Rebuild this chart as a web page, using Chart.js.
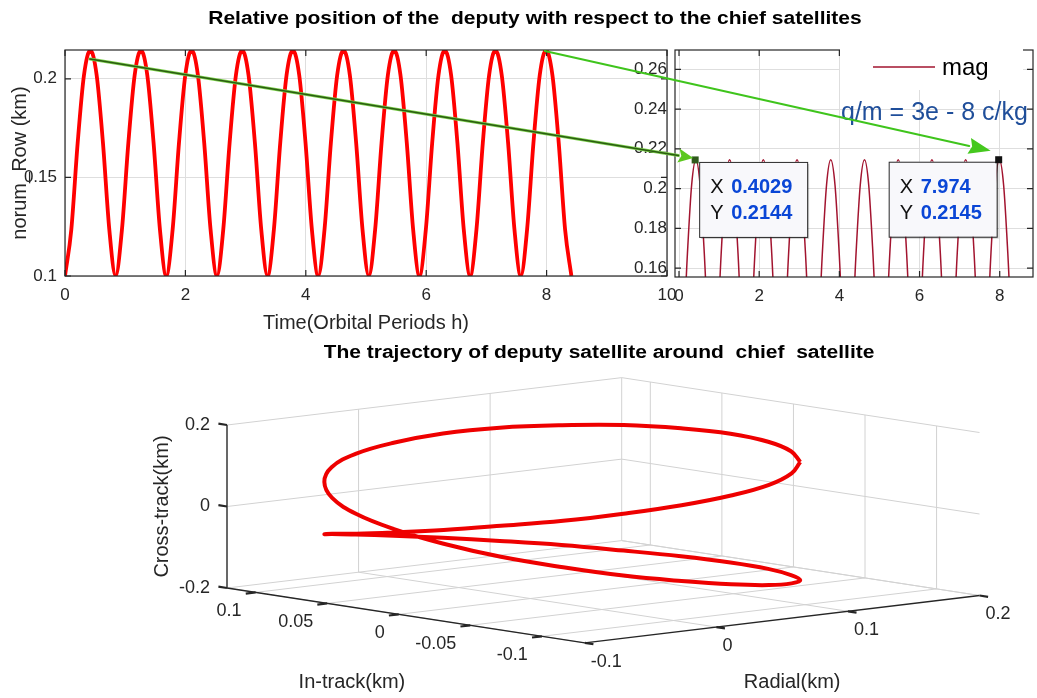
<!DOCTYPE html>
<html>
<head>
<meta charset="utf-8">
<script src="https://cdn.jsdelivr.net/npm/chart.js@4.4.1/dist/chart.umd.min.js"></script>
<style>
  html, body { margin: 0; padding: 0; background: #fff; }
  #fig { position: relative; width: 1037px; height: 698px; overflow: hidden; font-family: "Liberation Sans", Arial, sans-serif; }
  #fig canvas { position: absolute; }
  .fig-title { position: absolute; font-weight: bold; font-size: 17.5px; color: #000; white-space: pre;
               transform: translateX(-50%) scaleX(1.2); line-height: 20px; }
</style>
</head>
<body>
<div id="fig">
  <canvas id="normChart" style="left:0;top:0" width="700" height="336"></canvas>
  <canvas id="zoomChart" style="left:600px;top:0" width="437" height="336"></canvas>
  <canvas id="arrows" style="left:0;top:0" width="1037" height="336"></canvas>
  <canvas id="orbitChart" style="left:0;top:340px" width="1037" height="358"></canvas>
  <div class="fig-title" style="left:535px;top:8px">Relative position of the  deputy with respect to the chief satellites</div>
  <div class="fig-title" style="left:599px;top:342px">The trajectory of deputy satellite around  chief  satellite</div>
</div>
<script>
/* ---------- data: norm of relative position vs time ---------- */
const timeH = [
  0.000, 0.105, 0.210, 0.315, 0.421, 0.526, 0.631, 0.736,
  0.841, 0.946, 1.052, 1.157, 1.262, 1.367, 1.472, 1.577,
  1.682, 1.788, 1.893, 1.998, 2.103, 2.208, 2.313, 2.418,
  2.524, 2.629, 2.734, 2.839, 2.944, 3.049, 3.155, 3.260,
  3.365, 3.470, 3.575, 3.680, 3.785, 3.891, 3.996, 4.101,
  4.206, 4.311, 4.416, 4.521, 4.627, 4.732, 4.837, 4.942,
  5.047, 5.152, 5.258, 5.363, 5.468, 5.573, 5.678, 5.783,
  5.888, 5.994, 6.099, 6.204, 6.309, 6.414, 6.519, 6.624,
  6.730, 6.835, 6.940, 7.045, 7.150, 7.255, 7.361, 7.466,
  7.571, 7.676, 7.781, 7.886, 7.991, 8.097, 8.202, 8.307,
  8.412
];
const normRow = [
  0.1000, 0.1236, 0.1673, 0.2018, 0.2145, 0.2018, 0.1673, 0.1236,
  0.1000, 0.1236, 0.1673, 0.2018, 0.2145, 0.2018, 0.1673, 0.1236,
  0.1000, 0.1236, 0.1673, 0.2018, 0.2145, 0.2018, 0.1673, 0.1236,
  0.1000, 0.1236, 0.1673, 0.2018, 0.2145, 0.2018, 0.1673, 0.1236,
  0.1000, 0.1236, 0.1673, 0.2018, 0.2145, 0.2018, 0.1673, 0.1236,
  0.1000, 0.1236, 0.1673, 0.2018, 0.2145, 0.2018, 0.1673, 0.1236,
  0.1000, 0.1236, 0.1673, 0.2018, 0.2145, 0.2018, 0.1673, 0.1236,
  0.1000, 0.1236, 0.1673, 0.2018, 0.2145, 0.2018, 0.1673, 0.1236,
  0.1000, 0.1236, 0.1673, 0.2018, 0.2145, 0.2018, 0.1673, 0.1236,
  0.1000, 0.1236, 0.1673, 0.2018, 0.2145, 0.2018, 0.1673, 0.1236,
  0.1000
];
const timeTicks = [0, 2, 4, 6, 8, 10];
const normTicks = [0.1, 0.15, 0.2];
const zoomTimeTicks = [0, 2, 4, 6, 8];
const zoomNormTicks = [0.16, 0.18, 0.2, 0.22, 0.24, 0.26];

// data tips shown on the zoomed plot
const tipX = [0.4029, 7.974];
const tipY = [0.2144, 0.2145];
// arrow start points on the left plot (time, norm)
const arrowFromX = [0.415, 7.97];
const arrowFromY = [0.2100, 0.2141];

/* ---------- data: 3D trajectory (radial, in-track, cross-track) ---------- */
const trajRadial = [
  0.104, 0.080, 0.052, 0.022, -0.008, -0.037, -0.061, -0.080, -0.092, -0.096, -0.093, -0.081,
  -0.063, -0.039, -0.011, 0.019, 0.050, 0.078, 0.102, 0.121, 0.133, 0.138, 0.134, 0.122,
  0.104, 0.080, 0.052, 0.022, -0.008, -0.037, -0.061, -0.080, -0.092, -0.096, -0.093, -0.081,
  -0.063, -0.039, -0.011, 0.019, 0.050, 0.078, 0.102, 0.121, 0.133, 0.138, 0.134, 0.122,
  0.104
];
const trajInTrack = [
  -0.093, -0.109, -0.119, -0.120, -0.113, -0.099, -0.079, -0.053, -0.024, 0.007, 0.036, 0.064,
  0.086, 0.103, 0.112, 0.113, 0.107, 0.093, 0.072, 0.046, 0.017, -0.013, -0.043, -0.070,
  -0.093, -0.109, -0.119, -0.120, -0.113, -0.099, -0.079, -0.053, -0.024, 0.007, 0.036, 0.064,
  0.086, 0.103, 0.112, 0.113, 0.107, 0.093, 0.072, 0.046, 0.017, -0.013, -0.043, -0.070,
  -0.093
];
const trajCross = [
  0.145, 0.135, 0.123, 0.109, 0.093, 0.076, 0.057, 0.038, 0.017, -0.004, -0.024, -0.044,
  -0.064, -0.082, -0.099, -0.114, -0.128, -0.139, -0.147, -0.154, -0.157, -0.158, -0.156, -0.152,
  -0.145, -0.135, -0.123, -0.109, -0.093, -0.076, -0.057, -0.038, -0.017, 0.004, 0.024, 0.044,
  0.064, 0.082, 0.099, 0.114, 0.128, 0.139, 0.147, 0.154, 0.157, 0.158, 0.156, 0.152,
  0.145
];
const radialTicks = [-0.1, 0, 0.1, 0.2];
const inTrackTicks = [0.1, 0.05, 0, -0.05, -0.1];
const crossTicks = [-0.2, 0, 0.2];
const radialLim = [-0.1, 0.2];
const inTrackLim = [-0.13, 0.12];
const crossLim = [-0.2, 0.2];

/* ---------- shared look ---------- */
const FONT = '"Liberation Sans", Arial, Helvetica, sans-serif';
Chart.defaults.font.family = FONT;
Chart.defaults.color = '#262626';
const AXIS_COLOR = '#262626';
const GRID_COLOR = '#dedede';

// MATLAB style box with inward tick marks
const matlabBox = {
  id: 'matlabBox',
  afterDraw(chart) {
    const { ctx, chartArea: a, scales } = chart;
    ctx.save();
    ctx.strokeStyle = AXIS_COLOR;
    ctx.lineWidth = 1.2;
    ctx.strokeRect(a.left, a.top, a.width, a.height);
    ctx.beginPath();
    scales.x.ticks.forEach(t => {
      const p = scales.x.getPixelForValue(t.value);
      ctx.moveTo(p, a.bottom); ctx.lineTo(p, a.bottom - 6);
      ctx.moveTo(p, a.top); ctx.lineTo(p, a.top + 6);
    });
    scales.y.ticks.forEach(t => {
      const p = scales.y.getPixelForValue(t.value);
      ctx.moveTo(a.left, p); ctx.lineTo(a.left + 6, p);
      ctx.moveTo(a.right, p); ctx.lineTo(a.right - 6, p);
    });
    ctx.stroke();
    ctx.restore();
  }
};

/* ========== LEFT: norm vs time ========== */
const normChart = new Chart(document.getElementById('normChart'), {
  type: 'line',
  data: {
    datasets: [{
      label: 'norum_Row',
      data: timeH.map((t, i) => ({ x: t, y: normRow[i] })),
      borderColor: '#ff0000',
      borderWidth: 3.8,
      pointRadius: 0,
      cubicInterpolationMode: 'monotone',
      fill: false
    }]
  },
  options: {
    responsive: false,
    animation: false,
    events: [],
    layout: { padding: { top: 50, right: 33, left: 0, bottom: 0 } },
    plugins: { legend: { display: false }, tooltip: { enabled: false } },
    scales: {
      x: {
        type: 'linear', min: 0, max: 10,
        afterBuildTicks: s => { s.ticks = timeTicks.map(v => ({ value: v })); },
        afterFit: s => { s.height = 60; },
        ticks: { font: { size: 17 }, padding: 9, maxRotation: 0 },
        grid: { color: GRID_COLOR, drawTicks: false },
        border: { display: false },
        title: { display: true, text: 'Time(Orbital Periods h)', font: { size: 20 }, padding: { top: 0, bottom: 1 } }
      },
      y: {
        type: 'linear', min: 0.1, max: 0.2146,
        afterBuildTicks: s => { s.ticks = normTicks.map(v => ({ value: v })); },
        afterFit: s => { s.width = 65; },
        ticks: { font: { size: 17 }, padding: 8, callback: v => String(v) },
        grid: { color: GRID_COLOR, drawTicks: false },
        border: { display: false },
        title: { display: true, text: 'norum_Row (km)', font: { size: 20 }, padding: { top: 8, bottom: 0 } }
      }
    }
  },
  plugins: [matlabBox]
});

/* ========== RIGHT: zoomed view with data tips ========== */
const zoomLegend = {
  id: 'zoomLegend',
  afterDraw(chart) {
    const { ctx, chartArea: a } = chart;
    const ds = chart.data.datasets[0];
    ctx.save();
    ctx.fillStyle = '#fff';
    ctx.fillRect(a.right - 193, a.top - 4, 183, 44);
    ctx.strokeStyle = ds.borderColor;
    ctx.lineWidth = 1.5;
    ctx.beginPath(); ctx.moveTo(a.right - 160, a.top + 17); ctx.lineTo(a.right - 98, a.top + 17); ctx.stroke();
    ctx.fillStyle = '#000';
    ctx.font = '24px ' + FONT;
    ctx.textBaseline = 'middle';
    ctx.fillText(ds.label, a.right - 91, a.top + 18);
    ctx.fillStyle = '#1f4e9a';
    ctx.font = '25px ' + FONT;
    ctx.fillText('q/m = 3e - 8 c/kg', a.right - 192, a.top + 63);
    ctx.restore();
  }
};

const dataTips = {
  id: 'dataTips',
  afterDraw(chart) {
    const { ctx, scales: { x, y } } = chart;
    ctx.save();
    tipX.forEach((tx, i) => {
      const mx = x.getPixelForValue(tx), my = y.getPixelForValue(tipY[i]);
      const w = 108, h = 75;
      const left = i === 0 ? mx + 4 : mx - 2 - w;
      const top = my + 2;
      ctx.fillStyle = 'rgba(0,0,0,0.18)';
      ctx.fillRect(left + 2, top + 2, w, h);
      ctx.fillStyle = '#f8f8fb';
      ctx.fillRect(left, top, w, h);
      ctx.strokeStyle = '#2a2a2a'; ctx.lineWidth = 1;
      ctx.strokeRect(left + 0.5, top + 0.5, w, h);
      ctx.textBaseline = 'middle';
      ctx.font = '20px ' + FONT;
      ctx.fillStyle = '#111';
      ctx.fillText('X', left + 11, top + 26);
      ctx.fillText('Y', left + 11, top + 52);
      ctx.font = 'bold 20px ' + FONT;
      ctx.fillStyle = '#0a46d6';
      ctx.fillText(String(tx), left + 32, top + 26);
      ctx.fillText(String(tipY[i]), left + 32, top + 52);
      ctx.fillStyle = i === 0 ? '#2f5a1c' : '#111';
      ctx.fillRect(mx - 3.5, my - 3.5, 7, 7);
    });
    ctx.restore();
  }
};

const zoomChart = new Chart(document.getElementById('zoomChart'), {
  type: 'line',
  data: {
    datasets: [{
      label: 'mag',
      data: timeH.map((t, i) => ({ x: t, y: normRow[i] })),
      borderColor: '#a2142f',
      borderWidth: 1.5,
      pointRadius: 0,
      cubicInterpolationMode: 'monotone',
      fill: false
    }]
  },
  options: {
    responsive: false,
    animation: false,
    events: [],
    layout: { padding: { top: 50, right: 4, left: 0, bottom: 0 } },
    plugins: { legend: { display: false }, tooltip: { enabled: false } },
    scales: {
      x: {
        type: 'linear', min: -0.1, max: 8.83,
        afterBuildTicks: s => { s.ticks = zoomTimeTicks.map(v => ({ value: v })); },
        afterFit: s => { s.height = 59; },
        ticks: { font: { size: 17 }, padding: 9, maxRotation: 0 },
        grid: { color: GRID_COLOR, drawTicks: false },
        border: { display: false }
      },
      y: {
        type: 'linear', min: 0.1555, max: 0.2697,
        afterBuildTicks: s => { s.ticks = zoomNormTicks.map(v => ({ value: v })); },
        afterFit: s => { s.width = 75; },
        ticks: { font: { size: 17 }, padding: 8, callback: v => String(v) },
        grid: { color: GRID_COLOR, drawTicks: false },
        border: { display: false }
      }
    }
  },
  plugins: [matlabBox, zoomLegend, dataTips]
});

/* ========== arrows linking the two plots ========== */
function drawArrow(ctx, from, to, o) {
  const ang = Math.atan2(to.y - from.y, to.x - from.x);
  const bx = to.x - Math.cos(ang) * o.head, by = to.y - Math.sin(ang) * o.head;
  ctx.lineCap = 'round';
  o.strokes.forEach(s => {
    ctx.strokeStyle = s.color; ctx.lineWidth = s.width;
    ctx.beginPath(); ctx.moveTo(from.x, from.y); ctx.lineTo(bx, by); ctx.stroke();
  });
  ctx.fillStyle = o.headColor;
  ctx.beginPath();
  ctx.moveTo(to.x, to.y);
  ctx.lineTo(bx + Math.sin(ang) * o.half, by - Math.cos(ang) * o.half);
  ctx.lineTo(bx + Math.cos(ang) * 3, by + Math.sin(ang) * 3);
  ctx.lineTo(bx - Math.sin(ang) * o.half, by + Math.cos(ang) * o.half);
  ctx.closePath();
  ctx.fill();
}

(function drawLinks() {
  const ctx = document.getElementById('arrows').getContext('2d');
  const zoomLeft = 600;
  const pt = (chart, dx, xv, yv) => ({ x: dx + chart.scales.x.getPixelForValue(xv), y: chart.scales.y.getPixelForValue(yv) });
  const styles = [
    { strokes: [{ color: '#7bd04a', width: 3 }, { color: '#2b5c12', width: 1.6 }], headColor: '#5cc81e', head: 15, half: 7, end: [-2, -2] },
    { strokes: [{ color: '#3fc41c', width: 2 }], headColor: '#45c81e', head: 22, half: 8, end: [-8, -9] }
  ];
  styles.forEach((s, i) => {
    const from = pt(normChart, 0, arrowFromX[i], arrowFromY[i]);
    const tip = pt(zoomChart, zoomLeft, tipX[i], tipY[i]);
    drawArrow(ctx, from, { x: tip.x + s.end[0], y: tip.y + s.end[1] }, s);
  });
})();

/* ========== BOTTOM: 3D trajectory ========== */
const VIEW_AZ = 41.5, VIEW_EL = 7.8;          // degrees
const BOX_LEN = [527, 540, 164.5];             // projected length of box edges (px)
const BOX_ORIGIN = { x: 227, y: 248 };         // corner (radial min, in-track max, cross min)
const [rMin, rMax] = radialLim, [tMin, tMax] = inTrackLim, [cMin, cMax] = crossLim;

function project(r, t, c) {
  const a = VIEW_AZ * Math.PI / 180, e = VIEW_EL * Math.PI / 180;
  const nx = (r - rMin) / (rMax - rMin);
  const ny = (tMax - t) / (tMax - tMin);
  const nz = (c - cMin) / (cMax - cMin);
  return {
    x: BOX_ORIGIN.x + nx * BOX_LEN[0] * Math.cos(a) + ny * BOX_LEN[1] * Math.sin(a),
    y: BOX_ORIGIN.y - nx * BOX_LEN[0] * Math.sin(a) * Math.sin(e)
                    + ny * BOX_LEN[1] * Math.cos(a) * Math.sin(e)
                    - nz * BOX_LEN[2] * Math.cos(e)
  };
}

function segments(lines) {
  const pts = [];
  lines.forEach(([p, q]) => { pts.push(project(...p), project(...q), { x: NaN, y: NaN }); });
  return pts;
}

const gridLines = [];
radialTicks.forEach(v => {
  gridLines.push([[v, tMin, cMin], [v, tMax, cMin]], [[v, tMax, cMin], [v, tMax, cMax]]);
});
inTrackTicks.forEach(v => {
  gridLines.push([[rMin, v, cMin], [rMax, v, cMin]], [[rMax, v, cMin], [rMax, v, cMax]]);
});
crossTicks.forEach(v => {
  gridLines.push([[rMin, tMax, v], [rMax, tMax, v]], [[rMax, tMax, v], [rMax, tMin, v]]);
});
const axisLines = [
  [[rMin, tMax, cMin], [rMin, tMax, cMax]],
  [[rMin, tMin, cMin], [rMin, tMax, cMin]],
  [[rMin, tMin, cMin], [rMax, tMin, cMin]]
];
const tickLines = [];
crossTicks.forEach(v => tickLines.push([[rMin, tMax, v], [rMin, tMax + 0.006, v]]));
inTrackTicks.forEach(v => tickLines.push([[rMin, v, cMin], [rMin - 0.0075, v, cMin]]));
radialTicks.forEach(v => tickLines.push([[v, tMin, cMin], [v, tMin - 0.006, cMin]]));

const orbitText = {
  id: 'orbitText',
  afterDraw(chart) {
    const { ctx, scales: { x, y } } = chart;
    const px = p => ({ x: x.getPixelForValue(p.x), y: y.getPixelForValue(p.y) });
    ctx.save();
    ctx.fillStyle = AXIS_COLOR;
    ctx.font = '18px ' + FONT;
    ctx.textBaseline = 'middle';
    ctx.textAlign = 'right';
    crossTicks.forEach(v => { const p = px(project(rMin, tMax, v)); ctx.fillText(String(v), p.x - 17, p.y); });
    inTrackTicks.forEach(v => { const p = px(project(rMin, v, cMin)); ctx.fillText(String(v), p.x - 14, p.y + 19); });
    ctx.textAlign = 'left';
    radialTicks.forEach(v => { const p = px(project(v, tMin, cMin)); ctx.fillText(String(v), p.x + 6, p.y + 19); });

    ctx.font = '20px ' + FONT;
    ctx.textAlign = 'center';
    const mid = (p, q) => ({ x: (p.x + q.x) / 2, y: (p.y + q.y) / 2 });
    const inMid = mid(px(project(rMin, tMin, cMin)), px(project(rMin, tMax, cMin)));
    ctx.fillText('In-track(km)', inMid.x - 54, inMid.y + 67);
    const raMid = mid(px(project(rMin, tMin, cMin)), px(project(rMax, tMin, cMin)));
    ctx.fillText('Radial(km)', raMid.x + 10, raMid.y + 63);
    const crMid = mid(px(project(rMin, tMax, cMin)), px(project(rMin, tMax, cMax)));
    ctx.translate(crMid.x - 65, crMid.y);
    ctx.rotate(-Math.PI / 2);
    ctx.fillText('Cross-track(km)', 0, 0);
    ctx.restore();
  }
};

new Chart(document.getElementById('orbitChart'), {
  type: 'scatter',
  data: {
    datasets: [
      { label: 'trajectory', data: trajRadial.map((r, i) => project(r, trajInTrack[i], trajCross[i])),
        showLine: true, borderColor: '#ee0000', borderWidth: 4, pointRadius: 0, tension: 0.4 },
      { label: 'ticks', data: segments(tickLines), showLine: true, borderColor: AXIS_COLOR, borderWidth: 2.2, pointRadius: 0 },
      { label: 'axes', data: segments(axisLines), showLine: true, borderColor: AXIS_COLOR, borderWidth: 1.3, pointRadius: 0 },
      { label: 'grid', data: segments(gridLines), showLine: true, borderColor: '#d2d2d2', borderWidth: 1, pointRadius: 0 }
    ]
  },
  options: {
    responsive: false,
    animation: false,
    events: [],
    layout: { padding: 0 },
    plugins: { legend: { display: false }, tooltip: { enabled: false } },
    scales: {
      x: { type: 'linear', display: false, min: 0, max: 1037 },
      y: { type: 'linear', display: false, min: 0, max: 358, reverse: true }
    }
  },
  plugins: [orbitText]
});
</script>
</body>
</html>
